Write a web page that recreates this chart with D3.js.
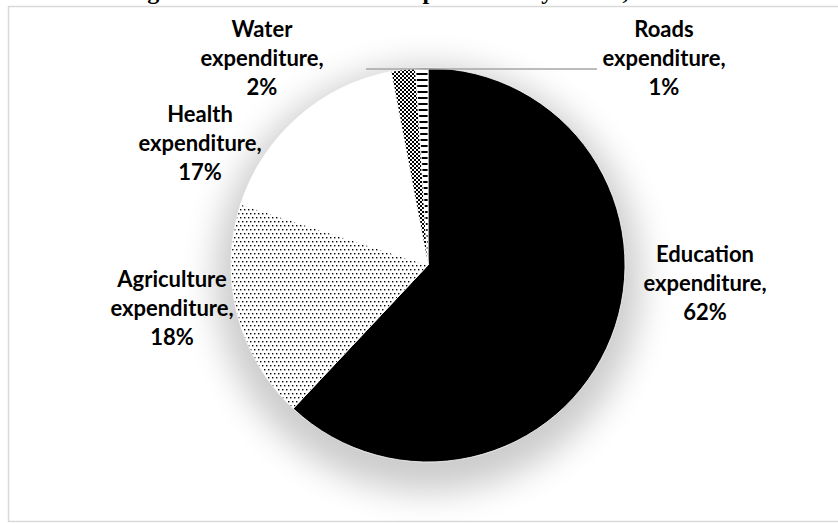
<!DOCTYPE html>
<html>
<head>
<meta charset="utf-8">
<script src="https://cdn.jsdelivr.net/npm/d3@7"></script>
<style>
  html, body { margin: 0; padding: 0; background: #fff; }
  svg { display: block; }
</style>
</head>
<body>
<svg id="chart" width="838" height="523"></svg>
<script>
// Sector shares of recurrent expenditure (percent)
const categories = ["Education", "Agriculture", "Health", "Water", "Roads"];
const shares = [62, 18, 17, 2, 1];
const seriesName = "expenditure";
const titleText = "Figure 4: Total Recurrent Expenditure by Sector, 2018";

// Fill style per sector
const fills = ["solid", "dots", "blank", "checker", "stripes"];

// Label anchors (centre x, first baseline y)
const labelPos = [[705, 262], [172, 287], [200, 122], [262, 37], [664, 37]];

const W = 838, H = 523;
const cx = 428, cy = 265, R = 197;

const svg = d3.select("#chart");
const defs = svg.append("defs");

// Patterns
const pDots = defs.append("pattern").attr("id", "dots")
  .attr("patternUnits", "userSpaceOnUse").attr("width", 4).attr("height", 8);
pDots.append("rect").attr("width", 4).attr("height", 8).attr("fill", "#fff");
pDots.append("rect").attr("x", 0).attr("y", 0).attr("width", 1.4).attr("height", 1.4).attr("fill", "#000");
pDots.append("rect").attr("x", 2).attr("y", 4).attr("width", 1.4).attr("height", 1.4).attr("fill", "#000");

const pChk = defs.append("pattern").attr("id", "checker")
  .attr("patternUnits", "userSpaceOnUse").attr("width", 4).attr("height", 4);
pChk.append("rect").attr("width", 4).attr("height", 4).attr("fill", "#fff");
pChk.append("rect").attr("width", 2).attr("height", 2).attr("fill", "#000");
pChk.append("rect").attr("x", 2).attr("y", 2).attr("width", 2).attr("height", 2).attr("fill", "#000");

const pStr = defs.append("pattern").attr("id", "stripes")
  .attr("patternUnits", "userSpaceOnUse").attr("width", 6).attr("height", 6);
pStr.append("rect").attr("width", 6).attr("height", 6).attr("fill", "#fff");
pStr.append("rect").attr("y", 0).attr("width", 6).attr("height", 2).attr("fill", "#000");

// Soft shadow under the pie
const blur = defs.append("filter").attr("id", "halo")
  .attr("x", "-50%").attr("y", "-50%").attr("width", "200%").attr("height", "200%");
blur.append("feGaussianBlur").attr("stdDeviation", 17);

const fillFor = f => f === "solid" ? "#000" : f === "blank" ? "#fff" : `url(#${f})`;

// Title (sits above the chart frame)
svg.append("text")
  .attr("x", 126).attr("y", -1.5)
  .attr("font-family", "'Liberation Serif', 'Times New Roman', serif")
  .attr("font-weight", "bold").attr("font-size", 24)
  .attr("fill", "#000")
  .text(titleText);

// Chart frame
svg.append("rect")
  .attr("x", 8.5).attr("y", 6.5).attr("width", W).attr("height", H - 8)
  .attr("fill", "#fff").attr("stroke", "#d9d9d9").attr("stroke-width", 1.5);

const g = svg.append("g").attr("transform", `translate(${cx},${cy})`);

g.append("circle")
  .attr("cx", 0).attr("cy", 14).attr("r", R + 16)
  .attr("fill", "#000").attr("opacity", 0.2)
  .attr("filter", "url(#halo)");

const pie = d3.pie().sort(null).value(d => d.v).startAngle(0).endAngle(2 * Math.PI);
const data = categories.map((c, i) => ({ name: c, v: shares[i], fill: fills[i], pos: labelPos[i] }));
const arcs = pie(data);
const arc = d3.arc().innerRadius(0).outerRadius(R);

g.selectAll("path.slice").data(arcs).join("path")
  .attr("class", "slice")
  .attr("d", arc)
  .attr("fill", d => fillFor(d.data.fill))
  .attr("stroke", "#fff").attr("stroke-width", 0.8);

// Leader line for the smallest slice
const roads = arcs[4];
const roadsMid = (roads.startAngle + roads.endAngle) / 2;
const leaderY = cy - R * Math.cos(roadsMid) + 1;
svg.append("line")
  .attr("x1", cx - 62).attr("x2", roads.data.pos[0] - 67)
  .attr("y1", leaderY).attr("y2", leaderY)
  .attr("stroke", "#a6a6a6").attr("stroke-width", 1.5);

// Labels
const lineGap = 29;
const labels = svg.selectAll("text.lbl").data(arcs).join("text")
  .attr("class", "lbl")
  .attr("text-anchor", "middle")
  .attr("font-family", "Lato, 'Open Sans', sans-serif")
  .attr("font-weight", "bold").attr("font-size", 22)
  .attr("fill", "#000");
labels.each(function (d) {
  const t = d3.select(this);
  const lines = [d.data.name, seriesName + ",", Math.round(d.data.v) + "%"];
  lines.forEach((s, k) => {
    t.append("tspan").attr("x", d.data.pos[0]).attr("y", d.data.pos[1] + k * lineGap).text(s);
  });
});
</script>
</body>
</html>
